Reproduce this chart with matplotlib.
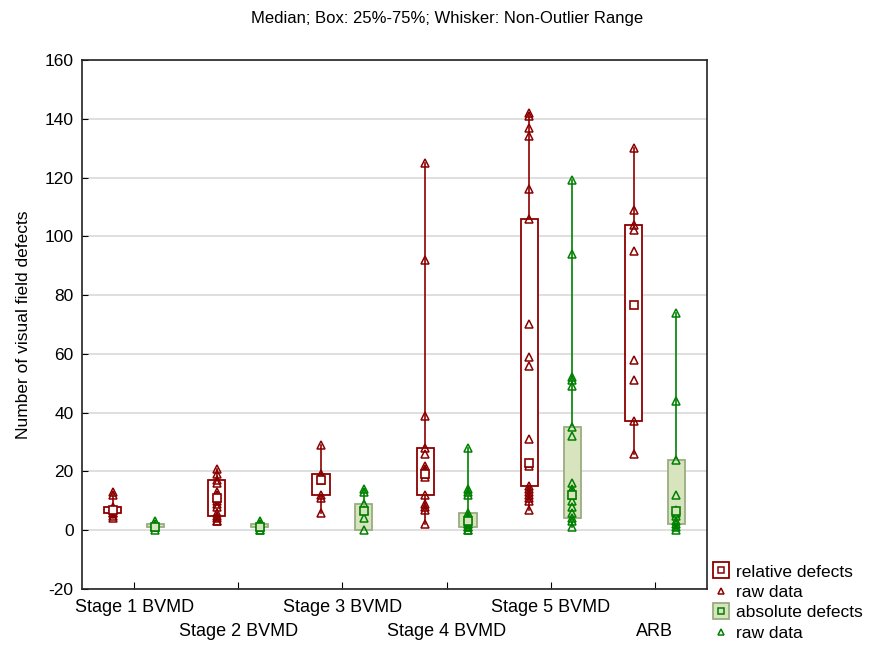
import matplotlib
matplotlib.use("Agg")
import matplotlib.pyplot as plt
from matplotlib.lines import Line2D
from matplotlib.patches import Rectangle
from matplotlib.legend_handler import HandlerTuple
from matplotlib.transforms import blended_transform_factory

plt.rcParams['font.family'] = ['Liberation Sans', 'DejaVu Sans']
plt.rcParams['axes.unicode_minus'] = False

categories = ["Stage 1 BVMD", "Stage 2 BVMD", "Stage 3 BVMD", "Stage 4 BVMD", "Stage 5 BVMD", "ARB"]

# relative defects: summary stats
rel_q1 = [6, 5, 12, 12, 15, 37]
rel_med = [7, 11, 17, 19, 23, 76.5]
rel_q3 = [8, 17, 19, 28, 106, 104]
rel_lo = [4, 3, 6, 2, 7, 26]
rel_hi = [13, 21, 29, 125, 142, 130]
rel_raw = [
    [13, 12, 8, 7, 7, 6, 6, 5, 4],
    [21, 19, 17, 16, 13, 12, 11, 10, 9, 8, 6, 5, 4, 3, 3],
    [29, 19, 18, 17, 12, 11, 6],
    [125, 92, 39, 28, 26, 22, 21, 20, 19, 18, 12, 9, 8, 7, 2],
    [142, 141, 137, 134, 116, 106, 70, 59, 56, 31, 23, 22, 15, 14, 13, 12, 11, 10, 7],
    [130, 109, 104, 102, 95, 58, 51, 37, 26],
]

# absolute defects: summary stats
abs_q1 = [1, 1, 0, 1, 4, 2]
abs_med = [1, 1, 6.5, 3, 12, 6.5]
abs_q3 = [2, 2, 9, 6, 35, 24]
abs_lo = [0, 0, 0, 0, 1, 0]
abs_hi = [3, 3, 14, 28, 119, 74]
abs_raw = [
    [3, 2, 1, 1, 0],
    [3, 2, 2, 1, 1, 0, 0],
    [14, 13, 9, 7, 4, 0],
    [28, 14, 13, 12, 6, 5, 4, 3, 2, 2, 1, 1, 0, 0],
    [119, 94, 52, 51, 49, 35, 32, 16, 14, 13, 12, 10, 8, 6, 4, 3, 1],
    [74, 44, 24, 12, 7, 6, 5, 3, 2, 1, 0],
]

RED = "#8b0000"
GREEN = "#008000"
GFILL = "#d7e4bd"
GEDGE = "#9aad80"

fig = plt.figure(figsize=(8.71, 6.45), dpi=100)
ax = fig.add_axes([82/871, 1-589/645, 625/871, 529/645])

bw = 0.165
off = 0.205

def draw(xc, q1, med, q3, lo, hi, raw, lc, fc, ec, mfc):
    ax.plot([xc, xc], [lo, hi], color=lc, lw=1.2, zorder=2)
    ax.add_patch(Rectangle((xc - bw/2, q1), bw, q3 - q1, facecolor=fc,
                           edgecolor=ec, lw=1.3, zorder=3))
    ax.plot([xc], [med], marker='s', ms=6, mfc=mfc, mec=lc, mew=1.2, zorder=5)
    ax.plot([xc]*len(raw), raw, ls='none', marker='^', ms=5.5, mfc='none',
            mec=lc, mew=1.1, zorder=4)

for i in range(len(categories)):
    draw(i - off, rel_q1[i], rel_med[i], rel_q3[i], rel_lo[i], rel_hi[i], rel_raw[i],
         RED, 'white', RED, 'white')
    draw(i + off, abs_q1[i], abs_med[i], abs_q3[i], abs_lo[i], abs_hi[i], abs_raw[i],
         GREEN, GFILL, GEDGE, GFILL)

ax.set_xlim(-0.5, len(categories) - 0.5)
ax.set_ylim(-20, 160)
ax.set_yticks(range(-20, 161, 20))
ax.yaxis.grid(True, color='#d9d9d9', lw=1.2)
ax.set_axisbelow(True)
ax.set_xticks(range(len(categories)))
ax.set_xticklabels([])
trans = blended_transform_factory(ax.transData, fig.transFigure)
for i, c in enumerate(categories):
    ypix = 608 if i % 2 == 0 else 631
    ax.text(i, 1 - ypix/645, c, transform=trans, ha='center', va='center', fontsize=13)
ax.tick_params(axis='y', direction='in', length=4, labelsize=12.5, pad=6)
ax.tick_params(axis='x', direction='in', length=5, pad=4)
for s in ax.spines.values():
    s.set_color('#222222')
    s.set_linewidth(1.2)

ax.set_ylabel("Number of visual field defects", fontsize=12.5, labelpad=10)
fig.text(447/871, 1-18/645, "Median; Box: 25%-75%; Whisker: Non-Outlier Range",
         ha='center', va='center', fontsize=12)

h_rel = (Line2D([], [], ls='none', marker='s', ms=12, mfc='white', mec=RED, mew=1.3),
         Line2D([], [], ls='none', marker='s', ms=5, mfc='white', mec=RED, mew=1.1))
h_rel_raw = Line2D([], [], ls='none', marker='^', ms=5, mfc='none', mec=RED, mew=1.1)
h_abs = (Line2D([], [], ls='none', marker='s', ms=12, mfc=GFILL, mec=GEDGE, mew=1.3),
         Line2D([], [], ls='none', marker='s', ms=5, mfc=GFILL, mec=GREEN, mew=1.1))
h_abs_raw = Line2D([], [], ls='none', marker='^', ms=5, mfc='none', mec=GREEN, mew=1.1)

fig.legend([h_rel, h_rel_raw, h_abs, h_abs_raw],
           ["relative defects", "raw data", "absolute defects", "raw data"],
           handler_map={tuple: HandlerTuple(ndivide=1)},
           loc='lower left', bbox_to_anchor=(706/871, -0.004), frameon=False,
           fontsize=12.5, handlelength=0.9, handletextpad=0.45, labelspacing=0.3,
           borderaxespad=0.0)

fig.savefig("out.png", dpi=100)
